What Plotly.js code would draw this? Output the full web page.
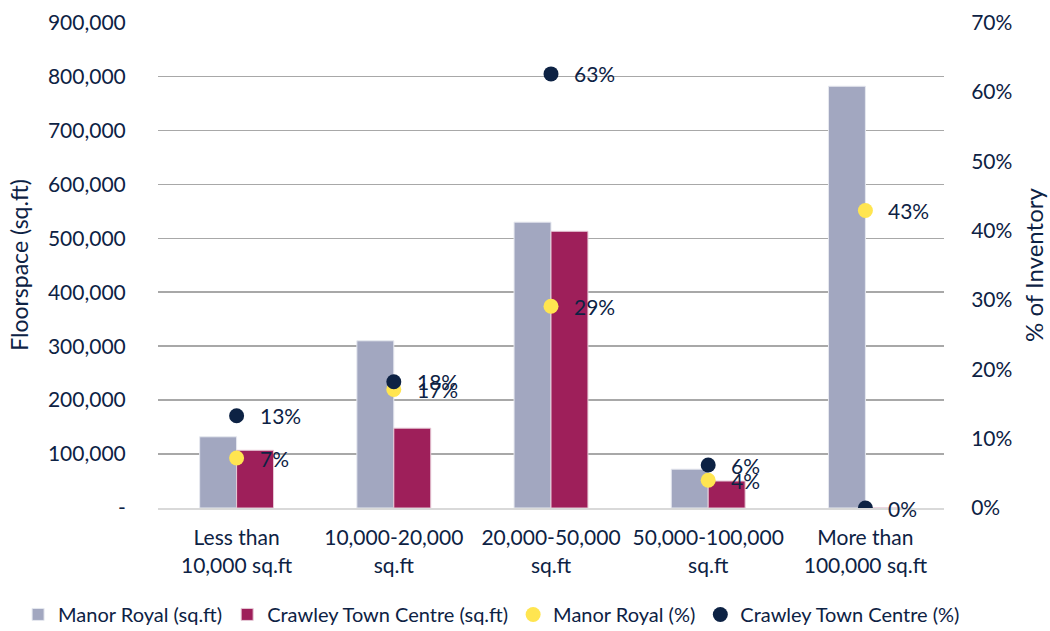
<!DOCTYPE html>
<html>
<head>
<meta charset="utf-8">
<script src="https://cdn.plot.ly/plotly-3.0.1.min.js"></script>
<style>html,body{margin:0;padding:0;background:#fff;}#chart{width:1050px;height:631px;}</style>
</head>
<body>
<div id="chart"></div>
<script>
const categories = ["Less than<br>10,000 sq.ft", "10,000-20,000<br>sq.ft", "20,000-50,000<br>sq.ft", "50,000-100,000<br>sq.ft", "More than<br>100,000 sq.ft"];
const manorRoyalSqft = [132000, 310000, 530000, 72000, 782000];
const crawleySqft = [107000, 148000, 513000, 50000, 0];
const manorRoyalPct = [0.072, 0.171, 0.291, 0.040, 0.429];
const crawleyPct = [0.133, 0.182, 0.626, 0.062, 0.0];
const yTickVals = [0, 100000, 200000, 300000, 400000, 500000, 600000, 700000, 800000, 900000];
const yTickText = ["-", "100,000", "200,000", "300,000", "400,000", "500,000", "600,000", "700,000", "800,000", "900,000"];
const y2TickVals = [0, 0.1, 0.2, 0.3, 0.4, 0.5, 0.6, 0.7];

const textColor = "#0d2244";
const font = "Lato, 'Open Sans', sans-serif";

const traces = [
  {type: "bar", name: "Manor Royal (sq.ft)", x: categories, y: manorRoyalSqft,
   marker: {color: "#a2a7c0", line: {color: "#e6e8ef", width: 1}}, hoverinfo: "skip"},
  {type: "bar", name: "Crawley Town Centre (sq.ft)", x: categories, y: crawleySqft,
   marker: {color: "#9e1f5a", line: {color: "#e6c9d6", width: 1}}, hoverinfo: "skip"},
  {type: "scatter", mode: "markers", name: "Manor Royal (%)", x: categories, y: manorRoyalPct, yaxis: "y2",
   marker: {color: "#ffe550", size: 15}, hoverinfo: "skip"},
  {type: "scatter", mode: "markers", name: "Crawley Town Centre (%)", x: categories, y: crawleyPct, yaxis: "y2",
   marker: {color: "#0d2244", size: 15}, hoverinfo: "skip"}
];

const annotations = [];
[manorRoyalPct, crawleyPct].forEach(function(series){
  series.forEach(function(v, i){
    annotations.push({x: categories[i], y: v, xref: "x", yref: "y2", text: Math.round(v*100) + "%",
      showarrow: false, xanchor: "left", yanchor: "middle", xshift: 21,
      font: {family: font, size: 21, color: textColor}});
  });
});

// tiny headroom so the top gridline (900,000) is drawn; both axes scaled identically
const headroom = 1.0012;

const layout = {
  width: 1050, height: 631,
  margin: {l: 158, r: 106, t: 22, b: 123, autoexpand: false},
  paper_bgcolor: "#ffffff", plot_bgcolor: "#ffffff",
  font: {family: font, size: 21, color: textColor},
  barmode: "group", bargap: 0.53, bargroupgap: 0,
  showlegend: true,
  legend: {orientation: "h", x: -0.178, xanchor: "left", y: -0.219, yanchor: "middle",
    font: {family: font, size: 20, color: textColor}, itemwidth: 30, tracegroupgap: 0},
  xaxis: {type: "category", showgrid: false, showline: true, linecolor: "#d9d9d9", linewidth: 2,
    tickfont: {family: font, size: 21, color: textColor}, ticks: "outside", ticklen: 10, tickcolor: "rgba(0,0,0,0)"},
  yaxis: {range: [0, 900000 * headroom], tickvals: yTickVals, ticktext: yTickText, showgrid: true, gridcolor: "#a8a8a8", gridwidth: 1.6,
    zeroline: false, showline: false, ticks: "outside", ticklen: 27, tickcolor: "rgba(0,0,0,0)",
    tickfont: {family: font, size: 21, color: textColor},
    title: {text: "Floorspace (sq.ft)", font: {family: font, size: 23, color: textColor}, standoff: 12}},
  yaxis2: {overlaying: "y", side: "right", range: [0, 0.7 * headroom], tickvals: y2TickVals, tickformat: ".0%", showgrid: false, zeroline: false,
    showline: false, ticks: "outside", ticklen: 22, tickcolor: "rgba(0,0,0,0)",
    tickfont: {family: font, size: 21, color: textColor},
    title: {text: "% of Inventory", font: {family: font, size: 24, color: textColor}, standoff: 14}},
  annotations: annotations
};

Plotly.newPlot("chart", traces, layout, {displayModeBar: false, staticPlot: true});
</script>
</body>
</html>
